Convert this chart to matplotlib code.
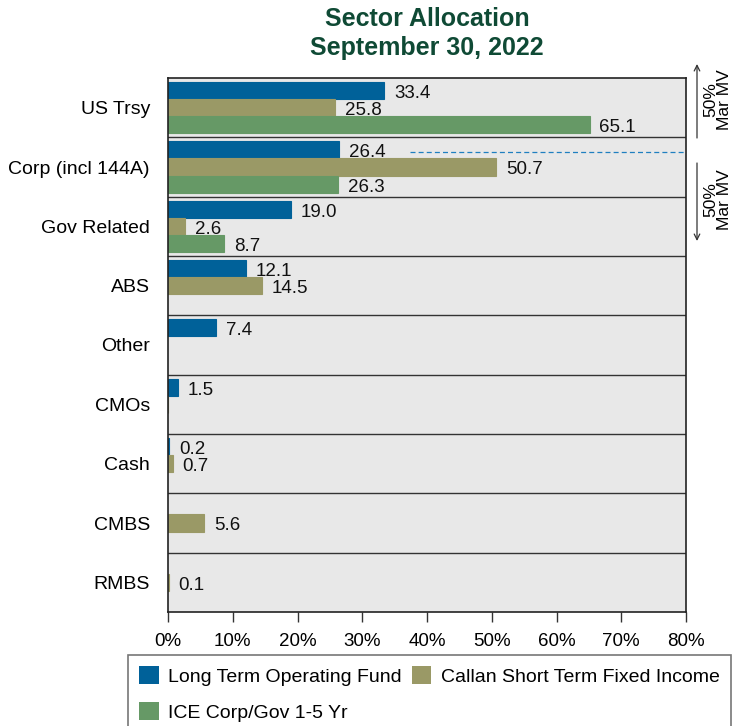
import matplotlib
matplotlib.use("Agg")
import matplotlib.pyplot as plt
import numpy as np
from matplotlib.patches import Patch

plt.rcParams['font.family'] = ['Liberation Sans', 'DejaVu Sans']

categories = ["US Trsy", "Corp (incl 144A)", "Gov Related", "ABS", "Other",
              "CMOs", "Cash", "CMBS", "RMBS"]
series_names = ["Long Term Operating Fund", "Callan Short Term Fixed Income",
                "ICE Corp/Gov 1-5 Yr"]
long_term = [33.4, 26.4, 19.0, 12.1, 7.4, 1.5, 0.2, None, None]
callan = [25.8, 50.7, 2.6, 14.5, None, 0.03, 0.7, 5.6, 0.1]
ice = [65.1, 26.3, 8.7, None, None, None, None, None, None]
xticks = [0, 10, 20, 30, 40, 50, 60, 70, 80]
xtick_labels = ["0%", "10%", "20%", "30%", "40%", "50%", "60%", "70%", "80%"]
colors = ["#006199", "#9a9966", "#669966"]
title_lines = "Sector Allocation\nSeptember 30, 2022"
marker_label = "50%\nMar MV"
marker_x = [37.4, 80]

W, H = 736, 726
fig = plt.figure(figsize=(W / 100, H / 100), dpi=100)
ax = fig.add_axes([168 / W, 1 - 612 / H, (686 - 168) / W, (612 - 78) / H])
ax.set_facecolor("#e8e8e8")

n = len(categories)
y = np.arange(n)
bh = 0.29
offsets = [-0.29, 0.0, 0.29]
for s, (vals, c) in enumerate(zip([long_term, callan, ice], colors)):
    for i, v in enumerate(vals):
        if v is None:
            continue
        ax.barh(y[i] + offsets[s], v, height=bh, color=c, edgecolor=c,
                linewidth=0.8)
        if round(v, 1) >= 0.1:
            ax.annotate(f"{v:.1f}", (v, y[i] + offsets[s] + 0.05),
                        xytext=(7, 0), textcoords='offset points',
                        ha='left', va='center', fontsize=13.5, color='#111111')

for k in range(1, n):
    ax.axhline(k - 0.5, color='#333333', lw=1.0)

# 50% marker dashed line
ax.plot(marker_x, [1 - 0.25, 1 - 0.25], ls=(0, (4, 2.5)), color='#1f7fc0', lw=0.9)

ax.set_xlim(0, 80)
ax.set_ylim(n - 0.5, -0.5)
ax.set_xticks(xticks)
ax.set_xticklabels(xtick_labels, fontsize=13.5)
ax.set_yticks(y)
ax.set_yticklabels(categories, fontsize=14)
ax.tick_params(axis='y', length=0, pad=13)
ax.tick_params(axis='x', length=7, width=1, color='#333333', pad=8)
for sp in ax.spines.values():
    sp.set_color('#222222')
    sp.set_linewidth(1.2)

fig.text(427 / W, 1 - 7 / H, title_lines, ha='center', va='top', fontsize=18,
         fontweight='bold', color='#0f4a35', linespacing=1.25,
         family=['Liberation Sans Narrow', 'Liberation Sans', 'DejaVu Sans'])

# arrows on right
ax.annotate('', xy=(697, H - 64), xycoords='figure pixels',
            xytext=(697, H - 138), textcoords='figure pixels',
            arrowprops=dict(arrowstyle='->', color='#333333', lw=0.9,
                            shrinkA=0, shrinkB=0))
ax.annotate('', xy=(697, H - 241), xycoords='figure pixels',
            xytext=(697, H - 163), textcoords='figure pixels',
            arrowprops=dict(arrowstyle='->', color='#333333', lw=0.9,
                            shrinkA=0, shrinkB=0))
fig.text(718 / W, 1 - 100 / H, marker_label, rotation=90, ha='center',
         va='center', fontsize=12.5, linespacing=0.9)
fig.text(718 / W, 1 - 200 / H, marker_label, rotation=90, ha='center',
         va='center', fontsize=12.5, linespacing=0.9)

handles = [Patch(facecolor=c, edgecolor='none') for c in colors]
order = [0, 2, 1]
leg = fig.legend([handles[i] for i in order], [series_names[i] for i in order],
                 loc='upper left',
                 bbox_to_anchor=(128 / W, 1 - 655 / H), ncol=2, fontsize=14,
                 frameon=True, fancybox=False, borderaxespad=0, borderpad=0.58,
                 handlelength=1.0, handleheight=1.0, handletextpad=0.5,
                 columnspacing=0.5, labelspacing=0.85)
leg.get_frame().set_edgecolor('#555555')
leg.get_frame().set_linewidth(1.2)

fig.savefig("out.png", dpi=100)
